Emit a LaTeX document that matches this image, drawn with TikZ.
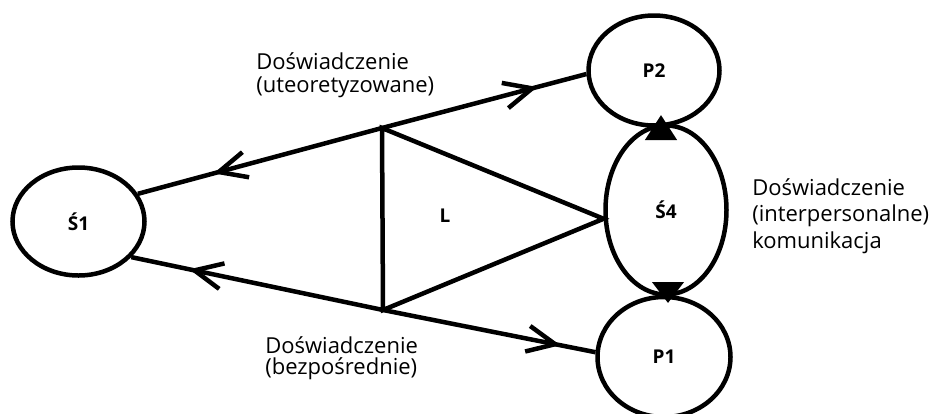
\documentclass[tikz,border=0pt]{standalone}
\usepackage{fontspec}
\setmainfont{Open Sans}
\usetikzlibrary{shapes.geometric,arrows.meta,decorations.markings}
\begin{document}
\begin{tikzpicture}[x=1pt,y=-1pt,
  line width=4.5pt,
  ell/.style={draw,ellipse,inner sep=0pt,font=\fontsize{19}{23}\selectfont\bfseries},
  lab/.style={align=left,inner sep=0pt,anchor=base west},
  barb/.style={postaction={decorate},decoration={markings,mark=at position #1 with {\arrow{Straight Barb[length=28pt,width=26pt]}}}},
  tri/.style={-{Triangle[length=#1,width=31pt]}}
]
\useasboundingbox (0,0) rectangle (940,413);
\node[ell,minimum width=132pt,minimum height=108pt] (S1) at (78.5,221.5) {Ś1};
\node[ell,minimum width=131pt,minimum height=110pt] (P2) at (654,70.5) {P2};
\node[ell,minimum width=121pt,minimum height=169pt] (S4) at (666,210) {Ś4};
\node[ell,minimum width=133pt,minimum height=120pt] (P1) at (664,357) {P1};
\node[ell,draw=none] (L) at (445,216) {L};
\coordinate (T) at (382,128);
\coordinate (B) at (383,310);
\draw[barb=0.69] (T) -- (S1.25);
\draw[barb=0.76] (T) -- (P2.183);
\draw[barb=0.77] (B) -- (S1.-34);
\draw[barb=0.835] (B) -- (P1.176);
\draw (T) -- (B) -- (S4.188) -- cycle;
\coordinate (up) at (661,115);
\coordinate (dn) at (668,303);
\draw[tri=25pt] (S4.north -| up) -- (up);
\draw[tri=21pt] (S4.south -| dn) -- (dn);
\node[lab,font=\fontsize{22}{23}\selectfont] (l1) at (254,92.5) {Doświadczenie\\(uteoretyzowane)};
\node[lab,font=\fontsize{22}{21}\selectfont] (l2) at (263,374) {Doświadczenie\\(bezpośrednie)};
\node[lab,font=\fontsize{22}{26.5}\selectfont] (l3) at (750,248) {Doświadczenie\\(interpersonalne)\\komunikacja};
\end{tikzpicture}
\end{document}
